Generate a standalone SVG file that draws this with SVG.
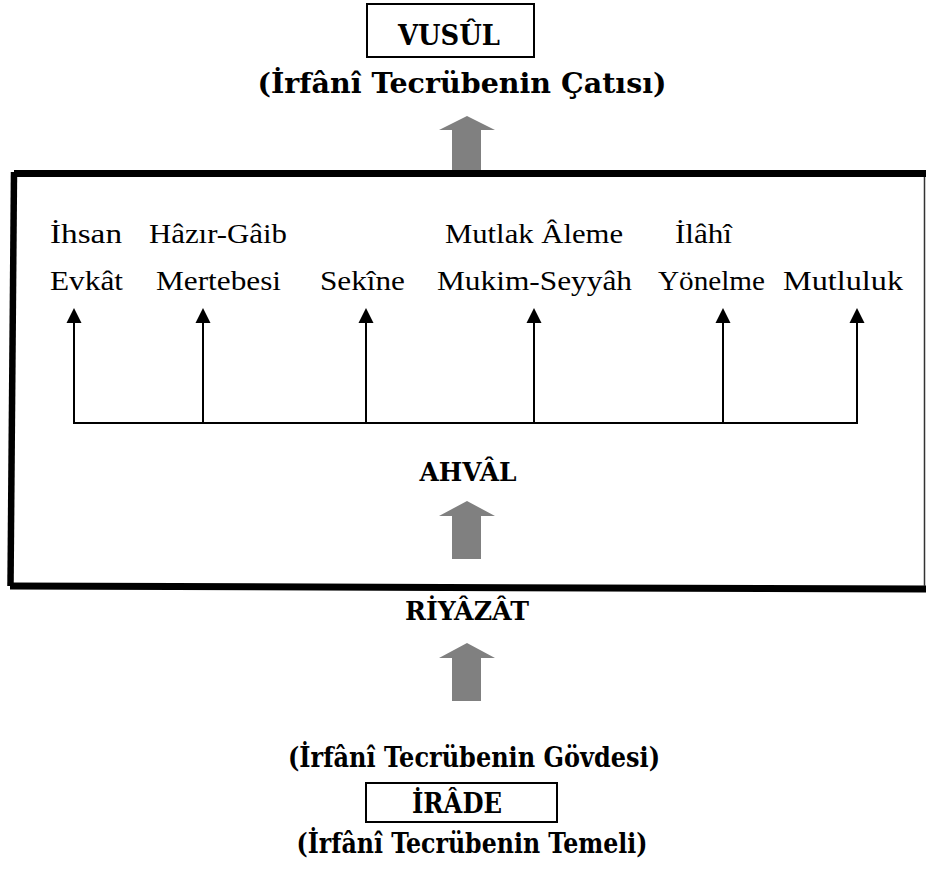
<svg xmlns="http://www.w3.org/2000/svg" width="926" height="870" viewBox="0 0 926 870">
<style>
.b{font-family:"DejaVu Serif","Liberation Serif",serif;font-weight:bold;font-size:27px;fill:#000}
.c{font-family:"DejaVu Serif","Liberation Serif",serif;font-weight:bold;font-size:26px;fill:#000}
.r{font-family:"Liberation Serif","DejaVu Serif",serif;font-size:27px;fill:#000}
.box{fill:none;stroke:#000;stroke-width:2}
.ln{fill:none;stroke:#000;stroke-width:2}
.g{fill:#808080}
</style>
<defs>
<marker id="ah" markerUnits="userSpaceOnUse" markerWidth="16" markerHeight="16" viewBox="0 0 16 16" refX="8" refY="15" orient="0">
<path d="M0.5,15 L8,0 L15.5,15 Z" fill="#000"/>
</marker>
</defs>
<rect width="926" height="870" fill="#fff"/>

<g id="frame">
<path d="M14,173.5 L926,173.5" stroke="#000" stroke-width="7" fill="none"/>
<path d="M14,172 L10.5,586" stroke="#000" stroke-width="6.5" fill="none"/>
<path d="M10,586 L926,589" stroke="#000" stroke-width="7" fill="none"/>
<path d="M924.5,177 L924.5,586" stroke="#333" stroke-width="1.5" fill="none"/>
</g>

<g id="vusul">
<rect class="box" x="367" y="4" width="167" height="53"/>
<text class="b" x="449" y="45" text-anchor="middle" textLength="102" lengthAdjust="spacingAndGlyphs">VUSÛL</text>
</g>
<g id="vusul-sub">
<text class="b" x="462" y="93" text-anchor="middle" textLength="409" lengthAdjust="spacingAndGlyphs">(İrfânî Tecrübenin Çatısı)</text>
</g>

<g id="arrows-gray" class="g">
<path d="M467,116 L495,130 L481,130 L481,170 L452,170 L452,130 L439,130 Z"/>
<path d="M467,501 L495,516 L481,516 L481,559 L452,559 L452,516 L439,516 Z"/>
<path d="M467,643 L495,658 L481,658 L481,701 L452,701 L452,658 L439,658 Z"/>
</g>

<g id="n1"><text class="r" x="50" y="243" textLength="72" lengthAdjust="spacingAndGlyphs">İhsan</text><text class="r" x="50" y="290" textLength="73" lengthAdjust="spacingAndGlyphs">Evkât</text></g>
<g id="n2"><text class="r" x="149" y="243" textLength="138" lengthAdjust="spacingAndGlyphs">Hâzır-Gâib</text><text class="r" x="156" y="290" textLength="125" lengthAdjust="spacingAndGlyphs">Mertebesi</text></g>
<g id="n3"><text class="r" x="320" y="290" textLength="85" lengthAdjust="spacingAndGlyphs">Sekîne</text></g>
<g id="n4"><text class="r" x="445" y="243" textLength="178" lengthAdjust="spacingAndGlyphs">Mutlak Âleme</text><text class="r" x="437" y="290" textLength="195" lengthAdjust="spacingAndGlyphs">Mukim-Seyyâh</text></g>
<g id="n5"><text class="r" x="675" y="243" textLength="57" lengthAdjust="spacingAndGlyphs">İlâhî</text><text class="r" x="658" y="290" textLength="107" lengthAdjust="spacingAndGlyphs">Yönelme</text></g>
<g id="n6"><text class="r" x="783" y="290" textLength="120" lengthAdjust="spacingAndGlyphs">Mutluluk</text></g>

<g id="connectors">
<path class="ln" d="M73,423 L858,423"/>
<path class="ln" d="M74,423 L74,323" marker-end="url(#ah)"/>
<path class="ln" d="M203,423 L203,323" marker-end="url(#ah)"/>
<path class="ln" d="M366,423 L366,323" marker-end="url(#ah)"/>
<path class="ln" d="M534,423 L534,323" marker-end="url(#ah)"/>
<path class="ln" d="M723,423 L723,323" marker-end="url(#ah)"/>
<path class="ln" d="M857,423 L857,323" marker-end="url(#ah)"/>
</g>

<g id="ahval"><text class="c" x="468" y="481" text-anchor="middle" textLength="97" lengthAdjust="spacingAndGlyphs">AHVÂL</text></g>
<g id="riyazat"><text class="c" x="467" y="620" text-anchor="middle" textLength="124" lengthAdjust="spacingAndGlyphs">RİYÂZÂT</text></g>

<g id="govde"><text class="b" x="474" y="767" text-anchor="middle" textLength="372" lengthAdjust="spacingAndGlyphs">(İrfânî Tecrübenin Gövdesi)</text></g>
<g id="irade">
<rect class="box" x="366" y="783" width="191" height="39"/>
<text class="b" x="457" y="813" text-anchor="middle" textLength="90" lengthAdjust="spacingAndGlyphs">İRÂDE</text>
</g>
<g id="temel"><text class="b" x="472" y="853" text-anchor="middle" textLength="351" lengthAdjust="spacingAndGlyphs">(İrfânî Tecrübenin Temeli)</text></g>
</svg>
